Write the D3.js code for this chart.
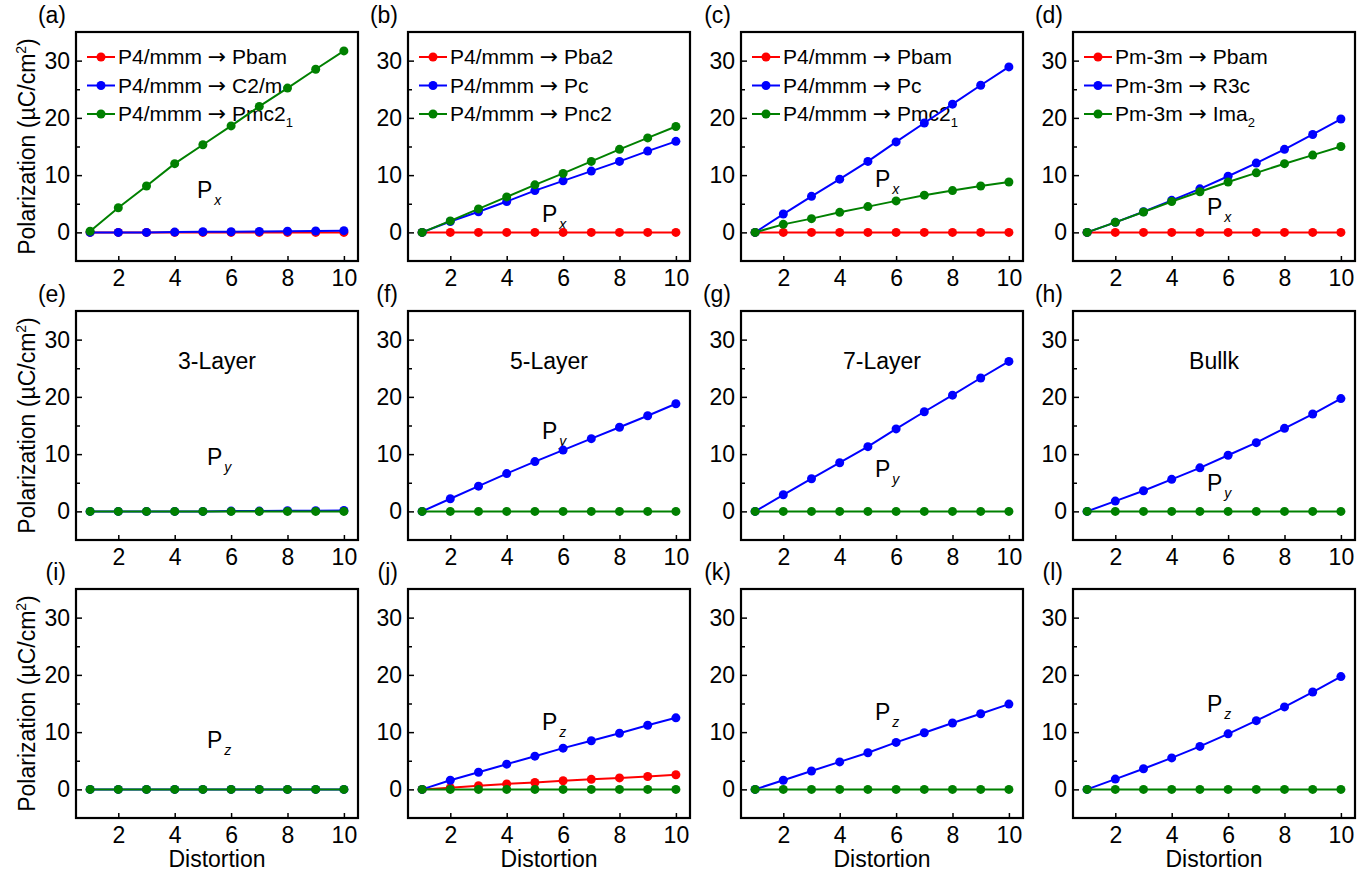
<!DOCTYPE html>
<html><head><meta charset="utf-8">
<script src="https://cdn.jsdelivr.net/npm/d3@7"></script>
<style>body{margin:0;background:#fff} text{font-family:Arial,"Liberation Sans",sans-serif;fill:#000}</style>
</head><body><svg id="chart" width="1371" height="876"></svg>
<script>
// ---------- data ----------
const distortion = [1, 2, 3, 4, 5, 6, 7, 8, 9, 10];
const xTickValues = [2, 4, 6, 8, 10];
const yTickValues = [0, 10, 20, 30];
const yMinorTickValues = [5, 15, 25];
const panelLabels = ["(a)","(b)","(c)","(d)","(e)","(f)","(g)","(h)","(i)","(j)","(k)","(l)"];
const seriesColors = ["#ff0000", "#0000ff", "#008000"];

const legendA = ["P4/mmm → Pbam", "P4/mmm → C2/m", "P4/mmm → Pmc2_1"];
const legendB = ["P4/mmm → Pba2", "P4/mmm → Pc", "P4/mmm → Pnc2"];
const legendC = ["P4/mmm → Pbam", "P4/mmm → Pc", "P4/mmm → Pmc2_1"];
const legendD = ["Pm-3m → Pbam", "Pm-3m → R3c", "Pm-3m → Ima_2"];
const layerLabels = ["3-Layer", "5-Layer", "7-Layer", "Bullk"];
const componentLabels = ["x", "y", "z"];

// row 1: Px
const aRed   = [0, 0, 0, 0, 0, 0, 0, 0, 0, 0];
const aBlue  = [0, 0, 0, 0.05, 0.1, 0.1, 0.15, 0.2, 0.25, 0.3];
const aGreen = [0.2, 4.3, 8.1, 12.0, 15.3, 18.6, 22.0, 25.2, 28.5, 31.7];
const bRed   = [0, 0, 0, 0, 0, 0, 0, 0, 0, 0];
const bBlue  = [0, 1.9, 3.6, 5.4, 7.3, 9.0, 10.7, 12.4, 14.2, 15.9];
const bGreen = [0, 2.0, 4.1, 6.2, 8.3, 10.3, 12.4, 14.5, 16.5, 18.5];
const cRed   = [0, 0, 0, 0, 0, 0, 0, 0, 0, 0];
const cBlue  = [0, 3.2, 6.3, 9.3, 12.4, 15.8, 19.1, 22.4, 25.7, 28.9];
const cGreen = [0, 1.4, 2.4, 3.5, 4.5, 5.5, 6.5, 7.3, 8.1, 8.8];
const dRed   = [0, 0, 0, 0, 0, 0, 0, 0, 0, 0];
const dBlue  = [0, 1.75, 3.6, 5.6, 7.6, 9.8, 12.1, 14.5, 17.1, 19.8];
const dGreen = [0, 1.75, 3.55, 5.4, 7.1, 8.8, 10.4, 12.0, 13.5, 15.0];
// row 2: Py
const eBlue  = [0, 0, 0, 0, 0, 0.05, 0.05, 0.1, 0.1, 0.15];
const eGreen = [0, 0, 0, 0, 0, 0, 0, 0, 0, 0];
const fBlue  = [0, 2.2, 4.4, 6.6, 8.7, 10.7, 12.7, 14.7, 16.7, 18.8];
const fGreen = [0, 0, 0, 0, 0, 0, 0, 0, 0, 0];
const gBlue  = [0, 2.9, 5.7, 8.5, 11.3, 14.4, 17.4, 20.3, 23.3, 26.2];
const gGreen = [0, 0, 0, 0, 0, 0, 0, 0, 0, 0];
const hBlue  = [0, 1.8, 3.6, 5.6, 7.6, 9.8, 12.0, 14.5, 17.0, 19.7];
const hGreen = [0, 0, 0, 0, 0, 0, 0, 0, 0, 0];
// row 3: Pz
const iBlue  = [0, 0, 0, 0, 0, 0, 0, 0, 0, 0];
const iGreen = [0, 0, 0, 0, 0, 0, 0, 0, 0, 0];
const jRed   = [0, 0.3, 0.65, 0.95, 1.2, 1.5, 1.75, 2.0, 2.25, 2.55];
const jBlue  = [0, 1.6, 3.0, 4.4, 5.8, 7.2, 8.5, 9.8, 11.2, 12.5];
const jGreen = [0, 0, 0, 0, 0, 0, 0, 0, 0, 0];
const kBlue  = [0, 1.6, 3.2, 4.8, 6.4, 8.2, 9.9, 11.6, 13.2, 14.9];
const kGreen = [0, 0, 0, 0, 0, 0, 0, 0, 0, 0];
const lBlue  = [0, 1.8, 3.6, 5.5, 7.5, 9.7, 12.0, 14.4, 17.0, 19.7];
const lGreen = [0, 0, 0, 0, 0, 0, 0, 0, 0, 0];

// [red, blue, green]; null = series not drawn
const panelSeries = [
  [aRed, aBlue, aGreen], [bRed, bBlue, bGreen], [cRed, cBlue, cGreen], [dRed, dBlue, dGreen],
  [null, eBlue, eGreen], [null, fBlue, fGreen], [null, gBlue, gGreen], [null, hBlue, hGreen],
  [null, iBlue, iGreen], [jRed, jBlue, jGreen], [null, kBlue, kGreen], [null, lBlue, lGreen]
];
const legends = [legendA, legendB, legendC, legendD];

// ---------- layout ----------
const W = 282, H = 229;
const colX = [76, 408, 741, 1073];
const rowY = [32, 311, 589];
const pAnno = [[121,166],[134,190],[134,155],[134,183],
               [131,154],[134,128],[134,166],[134,180],
               [131,159],[134,141],[134,131],[134,123]];
const FONT = 23;

const svg = d3.select("#chart");
const x = d3.scaleLinear().domain([0.5, 10.5]).range([0, W]);
const y = d3.scaleLinear().domain([-5, 35]).range([H, 0]);
const line = d3.line().x((d, i) => x(distortion[i])).y(d => y(d));

function addLegendText(sel, str) {
  const [left, right] = str.split(" → ");
  sel.append("tspan").text(left + " ");
  sel.append("tspan").style("font-family", '"DejaVu Sans",sans-serif').attr("font-size", 22).text("→");
  const parts = right.split("_");
  sel.append("tspan").text(" " + parts[0]);
  if (parts[1]) sel.append("tspan").attr("font-size", 13).attr("dy", 6).text(parts[1]);
}

panelSeries.forEach((series, p) => {
  const row = Math.floor(p / 4), col = p % 4;
  const g = svg.append("g").attr("transform", `translate(${colX[col]},${rowY[row]})`);

  const xa = g.append("g").attr("transform", `translate(0,${H})`)
    .call(d3.axisBottom(x).tickValues(xTickValues).tickSize(-5).tickPadding(9).tickFormat(d3.format("d")));
  const ya = g.append("g")
    .call(d3.axisLeft(y).tickValues(yTickValues).tickSize(-6).tickPadding(6).tickFormat(d3.format("d")));
  const ym = g.append("g")
    .call(d3.axisLeft(y).tickValues(yMinorTickValues).tickSize(-4).tickFormat(""));
  [xa, ya, ym].forEach(a => {
    a.select(".domain").remove();
    a.selectAll("line").attr("stroke", "#000").attr("stroke-width", 1.5);
    a.selectAll("text").attr("font-size", FONT).attr("fill", "#000")
      .style("font-family", 'Arial,"Liberation Sans",sans-serif');
  });

  if (row === 0) {
    const lg = g.append("g");
    legends[col].forEach((lab, i) => {
      const ly = 25 + i * 28.5;
      lg.append("line").attr("x1", 11).attr("x2", 39).attr("y1", ly).attr("y2", ly)
        .attr("stroke", seriesColors[i]).attr("stroke-width", 2);
      lg.append("circle").attr("cx", 25).attr("cy", ly).attr("r", 4.5).attr("fill", seriesColors[i]);
      const t = lg.append("text").attr("x", 42).attr("y", ly).attr("dy", "0.35em").attr("font-size", 21);
      addLegendText(t, lab);
    });
  }

  if (row === 1) {
    g.append("text").attr("x", W / 2).attr("y", 58).attr("text-anchor", "middle")
      .attr("font-size", FONT).text(layerLabels[col]);
  }

  const pt = g.append("text").attr("x", pAnno[p][0]).attr("y", pAnno[p][1]).attr("font-size", FONT);
  pt.append("tspan").text("P");
  pt.append("tspan").attr("font-size", 14).attr("font-style", "italic").attr("dx", 2).attr("dy", 7)
    .text(componentLabels[row]);

  series.forEach((vals, s) => {
    if (!vals) return;
    g.append("path").datum(vals).attr("d", line).attr("fill", "none")
      .attr("stroke", seriesColors[s]).attr("stroke-width", 2);
    g.selectAll(null).data(vals).enter().append("circle")
      .attr("cx", (d, i) => x(distortion[i])).attr("cy", d => y(d)).attr("r", 4.5)
      .attr("fill", seriesColors[s]);
  });

  g.append("rect").attr("width", W).attr("height", H).attr("fill", "none")
    .attr("stroke", "#000").attr("stroke-width", 2.2);

  g.append("text").attr("x", -10).attr("y", -9).attr("text-anchor", "end")
    .attr("font-size", FONT).text(panelLabels[p]);

  if (col === 0) {
    const yt = g.append("text").attr("transform", `translate(-41,${H / 2}) rotate(-90)`)
      .attr("text-anchor", "middle").attr("font-size", FONT);
    yt.append("tspan").text("Polarization (µC/cm");
    yt.append("tspan").attr("font-size", 14).attr("dy", -9).text("2");
    yt.append("tspan").attr("dy", 9).text(")");
  }
  if (row === 2) {
    g.append("text").attr("x", W / 2).attr("y", H + 49).attr("text-anchor", "middle")
      .attr("font-size", FONT).text("Distortion");
  }
});
</script></body></html>
